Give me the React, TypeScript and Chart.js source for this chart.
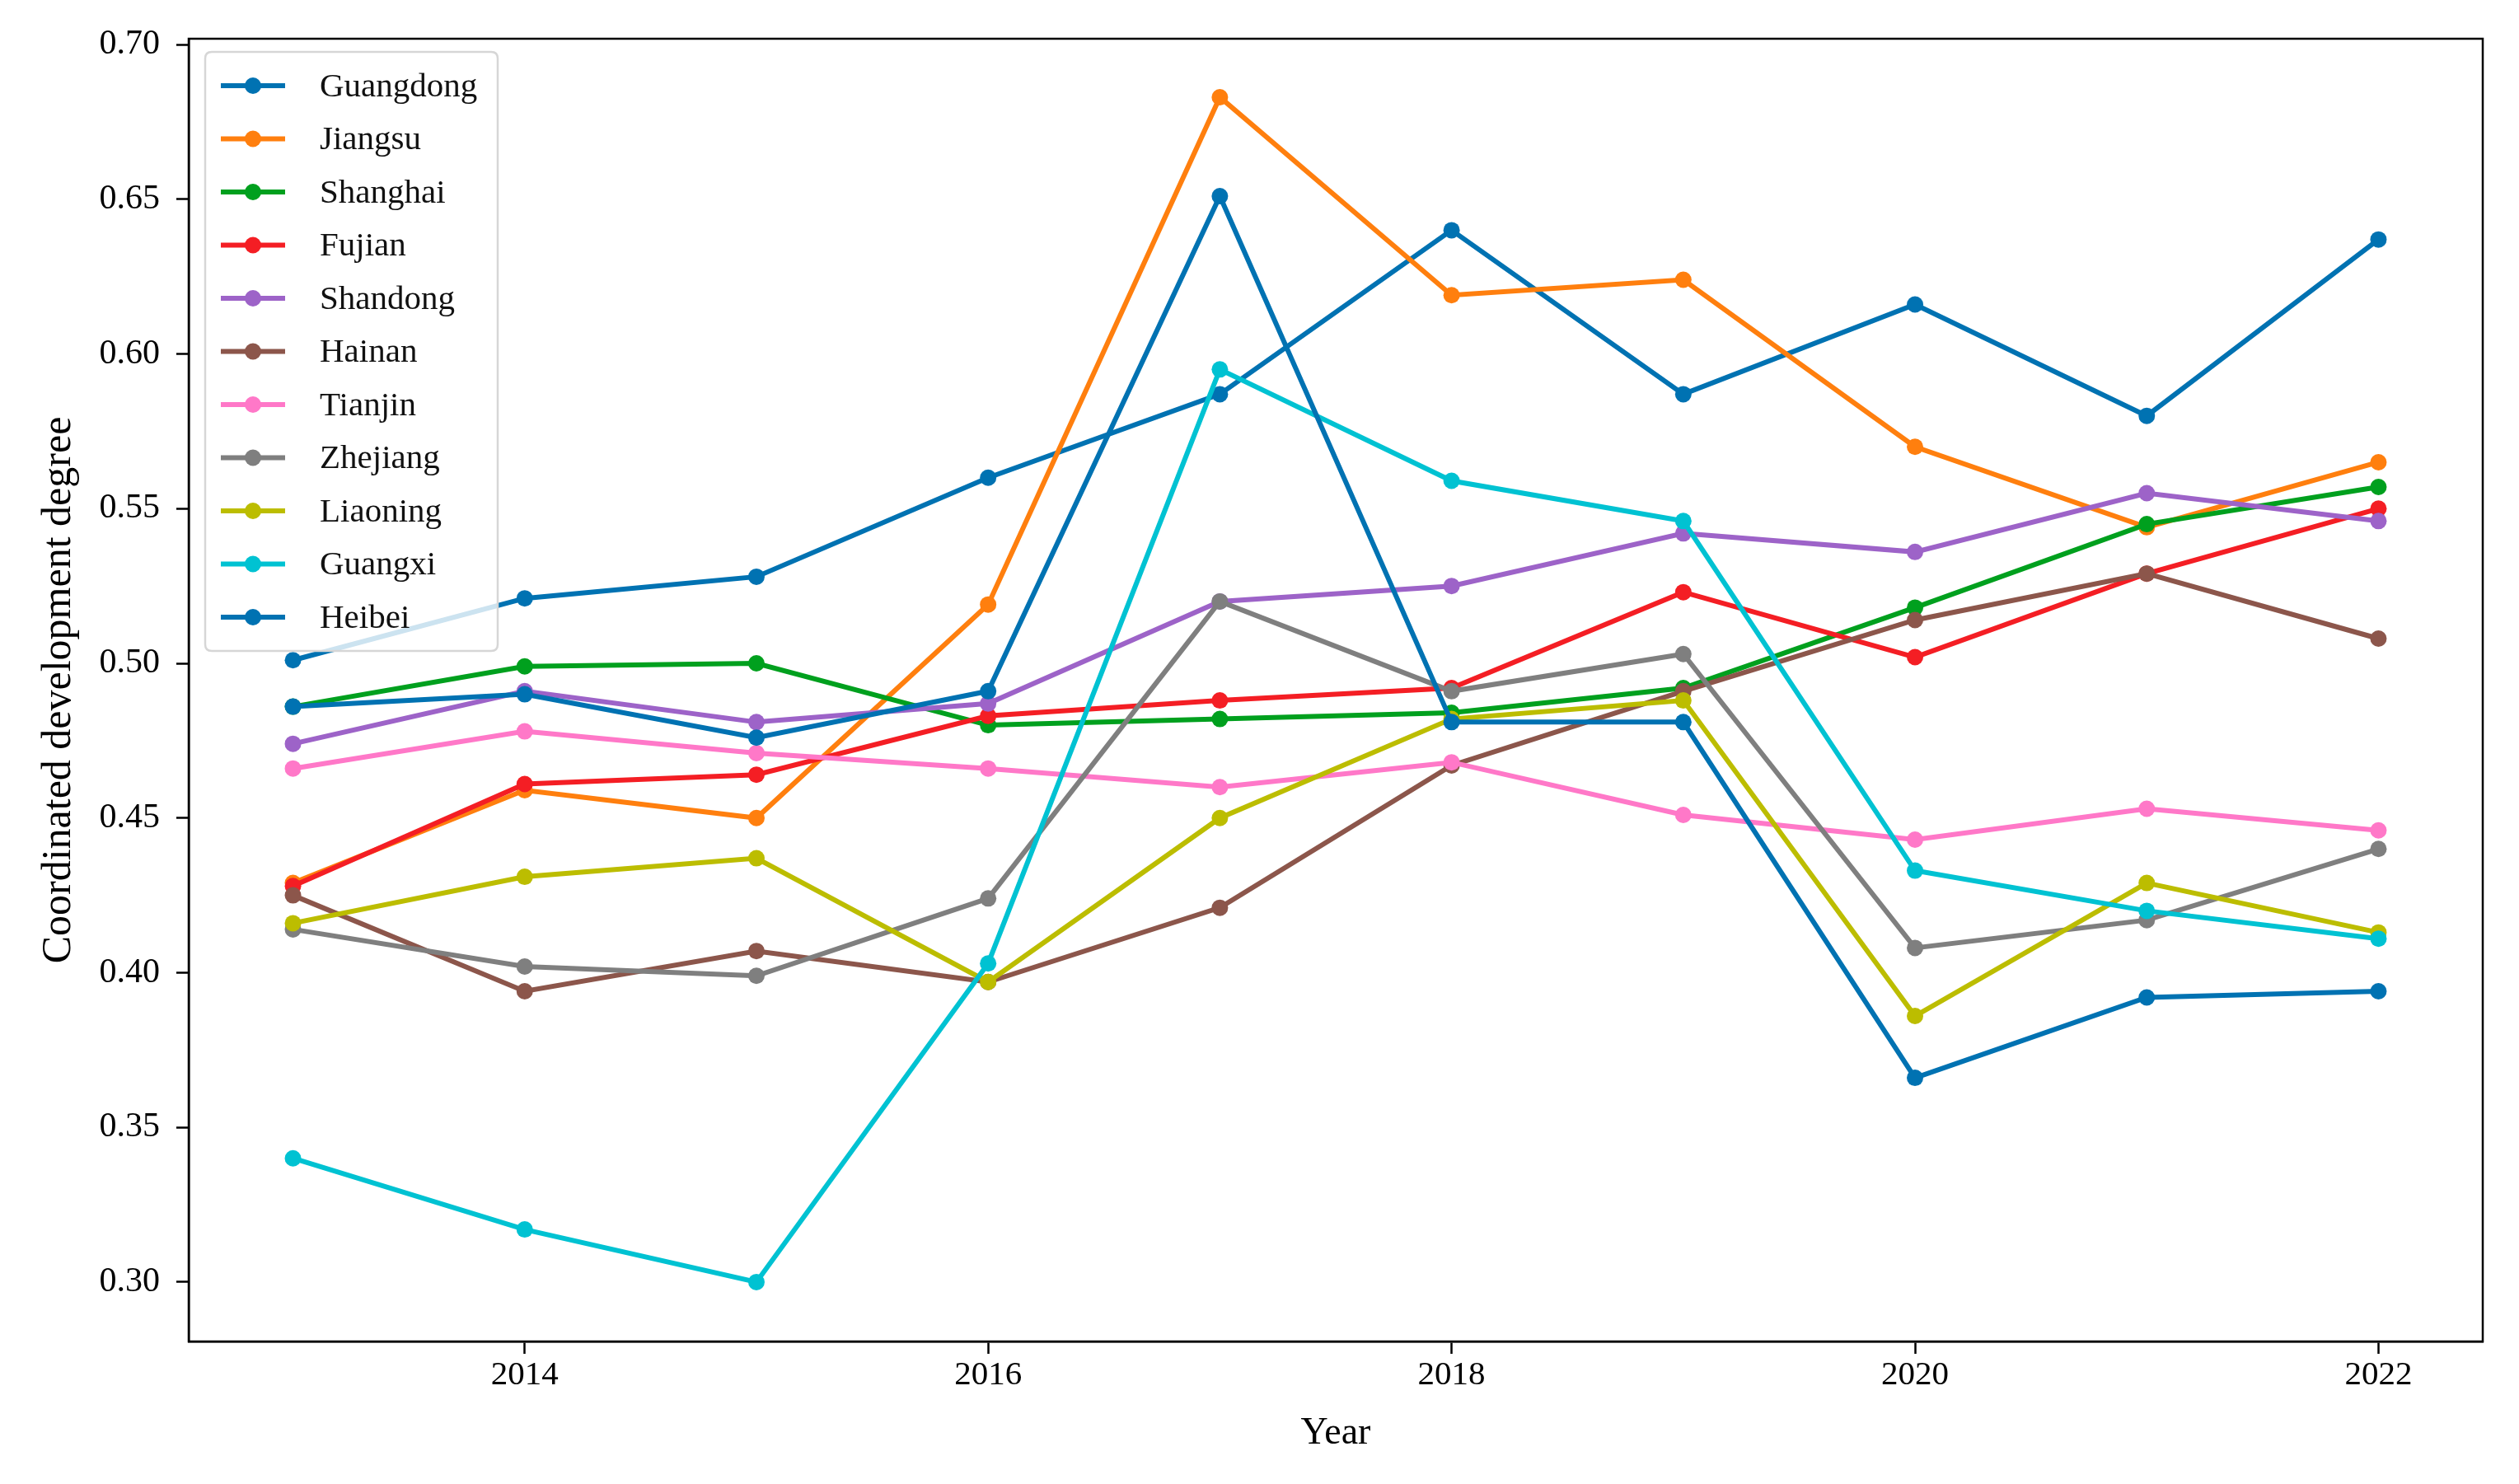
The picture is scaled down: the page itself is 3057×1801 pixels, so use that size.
import React, { useEffect, useRef } from "react";
import { Chart, registerables } from "chart.js";

Chart.register(...registerables);

const years = [2013, 2014, 2015, 2016, 2017, 2018, 2019, 2020, 2021, 2022];
const seriesNames = [
  "Guangdong", "Jiangsu", "Shanghai", "Fujian", "Shandong", "Hainan",
  "Tianjin", "Zhejiang", "Liaoning", "Guangxi", "Heibei",
];
const guangdong = [0.501, 0.521, 0.528, 0.560, 0.587, 0.640, 0.587, 0.616, 0.580, 0.637];
const jiangsu = [0.429, 0.459, 0.450, 0.519, 0.683, 0.619, 0.624, 0.570, 0.544, 0.565];
const shanghai = [0.486, 0.499, 0.500, 0.480, 0.482, 0.484, 0.492, 0.518, 0.545, 0.557];
const fujian = [0.428, 0.461, 0.464, 0.483, 0.488, 0.492, 0.523, 0.502, 0.529, 0.550];
const shandong = [0.474, 0.491, 0.481, 0.487, 0.520, 0.525, 0.542, 0.536, 0.555, 0.546];
const hainan = [0.425, 0.394, 0.407, 0.397, 0.421, 0.467, 0.491, 0.514, 0.529, 0.508];
const tianjin = [0.466, 0.478, 0.471, 0.466, 0.460, 0.468, 0.451, 0.443, 0.453, 0.446];
const zhejiang = [0.414, 0.402, 0.399, 0.424, 0.520, 0.491, 0.503, 0.408, 0.417, 0.440];
const liaoning = [0.416, 0.431, 0.437, 0.397, 0.450, 0.482, 0.488, 0.386, 0.429, 0.413];
const guangxi = [0.340, 0.317, 0.300, 0.403, 0.595, 0.559, 0.546, 0.433, 0.420, 0.411];
const heibei = [0.486, 0.490, 0.476, 0.491, 0.651, 0.481, 0.481, 0.366, 0.392, 0.394];
const seriesValues = [
  guangdong, jiangsu, shanghai, fujian, shandong, hainan,
  tianjin, zhejiang, liaoning, guangxi, heibei,
];
const seriesColors = [
  "#0072b2", "#ff7f0e", "#00a01e", "#f41e24", "#9d63c8", "#8c564b",
  "#ff78c8", "#7f7f7f", "#bcbd00", "#00c2d2", "#0072b2",
];
const xTicks = [2014, 2016, 2018, 2020, 2022];
const yTicks = [0.30, 0.35, 0.40, 0.45, 0.50, 0.55, 0.60, 0.65, 0.70];
const xTitle = "Year";
const yTitle = "Coordinated development degree";

const FONT = "'Liberation Serif', 'Times New Roman', serif";

const decorPlugin = {
  id: "decor",
  afterDatasetsDraw(chart: any) {
    const ctx = chart.ctx;
    const a = chart.chartArea;
    const lx = a.left + 20;
    const ly = a.top + 16;
    const lw = 355;
    const lh = 727;
    const r = 8;
    ctx.save();
    ctx.beginPath();
    ctx.moveTo(lx + r, ly);
    ctx.lineTo(lx + lw - r, ly);
    ctx.quadraticCurveTo(lx + lw, ly, lx + lw, ly + r);
    ctx.lineTo(lx + lw, ly + lh - r);
    ctx.quadraticCurveTo(lx + lw, ly + lh, lx + lw - r, ly + lh);
    ctx.lineTo(lx + r, ly + lh);
    ctx.quadraticCurveTo(lx, ly + lh, lx, ly + lh - r);
    ctx.lineTo(lx, ly + r);
    ctx.quadraticCurveTo(lx, ly, lx + r, ly);
    ctx.closePath();
    ctx.fillStyle = "rgba(255,255,255,0.8)";
    ctx.fill();
    ctx.strokeStyle = "#d6d6d6";
    ctx.lineWidth = 2.5;
    ctx.stroke();
    const ds = chart.data.datasets;
    ctx.font = "41px " + FONT;
    ctx.textBaseline = "middle";
    ctx.textAlign = "left";
    for (let i = 0; i < ds.length; i++) {
      const cy = ly + 41 + i * 64.5;
      ctx.strokeStyle = ds[i].borderColor;
      ctx.lineWidth = 6;
      ctx.beginPath();
      ctx.moveTo(lx + 19, cy);
      ctx.lineTo(lx + 97, cy);
      ctx.stroke();
      ctx.fillStyle = ds[i].borderColor;
      ctx.beginPath();
      ctx.arc(lx + 58, cy, 10, 0, Math.PI * 2);
      ctx.fill();
      ctx.fillStyle = "#111";
      ctx.fillText(ds[i].label, lx + 139, cy + 2);
    }
    ctx.restore();
  },
  afterDraw(chart: any) {
    const ctx = chart.ctx;
    const a = chart.chartArea;
    ctx.save();
    ctx.strokeStyle = "#000";
    ctx.lineWidth = 2.5;
    ctx.strokeRect(a.left, a.top, a.right - a.left, a.bottom - a.top);
    ctx.restore();
  },
};

export default function App() {
  const ref = useRef<HTMLCanvasElement | null>(null);
  useEffect(() => {
    document.body.style.margin = "0";
    const canvas = ref.current;
    if (!canvas) return;
    const n = seriesNames.length;
    const chart = new Chart(canvas, {
      type: "line",
      data: {
        datasets: seriesNames.map((name, i) => ({
          label: name,
          data: years.map((yr, k) => ({ x: yr, y: seriesValues[i][k] })),
          borderColor: seriesColors[i],
          backgroundColor: seriesColors[i],
          pointBackgroundColor: seriesColors[i],
          pointBorderWidth: 0,
          pointRadius: 10,
          borderWidth: 6,
          tension: 0,
          fill: false,
          order: n - i,
        })),
      },
      options: {
        animation: false,
        responsive: false,
        devicePixelRatio: 1,
        layout: { padding: { top: 47, right: 44, left: 0, bottom: 0 } },
        plugins: {
          legend: { display: false },
          tooltip: { enabled: false },
        },
        scales: {
          x: {
            type: "linear",
            min: 2012.55,
            max: 2022.45,
            afterBuildTicks: (s: any) => {
              s.ticks = xTicks.map((v) => ({ value: v }));
            },
            afterFit: (s: any) => {
              s.height = 173;
            },
            ticks: {
              callback: (v: any) => String(v),
              font: { family: FONT, size: 41 },
              color: "#000",
              padding: 2,
              maxRotation: 0,
              autoSkip: false,
            },
            grid: {
              drawOnChartArea: false,
              drawTicks: true,
              tickLength: 15,
              tickColor: "#000",
              tickWidth: 2.5,
            },
            border: { display: true, color: "#000", width: 2.5 },
            title: {
              display: true,
              text: xTitle,
              font: { family: FONT, size: 46 },
              color: "#000",
              padding: { top: 0, bottom: 33 },
            },
          },
          y: {
            type: "linear",
            min: 0.2808,
            max: 0.7019,
            afterBuildTicks: (s: any) => {
              s.ticks = yTicks.map((v) => ({ value: v }));
            },
            afterFit: (s: any) => {
              s.width = 229;
            },
            ticks: {
              callback: (v: any) => Number(v).toFixed(2),
              font: { family: FONT, size: 42 },
              color: "#000",
              padding: 20,
              autoSkip: false,
            },
            grid: {
              drawOnChartArea: false,
              drawTicks: true,
              tickLength: 15,
              tickColor: "#000",
              tickWidth: 2.5,
            },
            border: { display: true, color: "#000", width: 2.5 },
            title: {
              display: true,
              text: yTitle,
              font: { family: FONT, size: 50 },
              color: "#000",
              padding: { top: 42, bottom: 0 },
            },
          },
        },
      },
      plugins: [decorPlugin],
    } as any);
    return () => chart.destroy();
  }, []);
  return (
    <div style={{ position: "fixed", left: 0, top: 0, width: 3057, height: 1801, background: "#fff" }}>
      <canvas ref={ref} width={3057} height={1801} style={{ width: 3057, height: 1801, display: "block" }} />
    </div>
  );
}
